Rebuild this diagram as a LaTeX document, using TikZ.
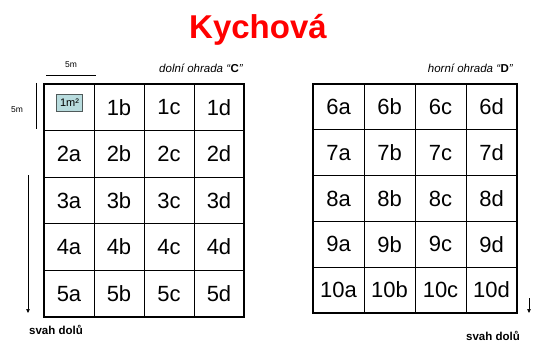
\documentclass[tikz,border=0pt]{standalone}
\usepackage{fontspec}
\setmainfont{Liberation Sans}
\usetikzlibrary{arrows.meta}
\definecolor{titlered}{RGB}{255,0,0}
\definecolor{unitfill}{RGB}{184,220,222}
\definecolor{unitline}{RGB}{80,90,90}
\begin{document}
\begin{tikzpicture}[x=1pt,y=-1pt,
  cell/.style={font=\fontsize{22}{22}\selectfont, inner sep=0pt},
  note/.style={font=\fontsize{11.5}{11.5}\selectfont\itshape, inner sep=0pt},
  dim/.style={font=\fontsize{8.5}{8.5}\selectfont, inner sep=0pt},
  slope/.style={font=\fontsize{11.5}{11.5}\selectfont\bfseries, inner sep=0pt},
  frame/.style={line width=2.6pt},
  inner/.style={line width=0.8pt},
  slopearrow/.style={line width=0.6pt, -{Triangle[length=4pt,width=3.5pt]}},
  ]
\useasboundingbox (0,0) rectangle (535,342);

% title
\node[font=\fontsize{33}{33}\selectfont\bfseries, text=titlered, inner sep=0pt] (title) at (258,30) {Kychová};

% lower enclosure C: 4 columns x 5 rows
\foreach \i in {1,2,3}
  \draw[inner] ({44+50*\i},84) -- ({44+50*\i},317);
\foreach \j in {1,2,3,4}
  \draw[inner] (44,{84+46.6*\j}) -- (244,{84+46.6*\j});
\draw[frame] (44,84) rectangle (244,317);

\foreach \r in {1,...,5}
  \foreach \c [count=\k from 0] in {a,b,c,d} {
    \ifnum\r=1 \ifnum\k=0 \else
      \node[cell] (c\r\c) at ({69+50*\k},{107.3+46.6*(\r-1)}) {\r\c};
    \fi \else
      \node[cell] (c\r\c) at ({69+50*\k},{107.3+46.6*(\r-1)}) {\r\c};
    \fi
  }

% one square metre marker in cell 1a
\node[draw=unitline, fill=unitfill, line width=0.6pt, minimum width=26pt, minimum height=17pt, inner sep=0pt,
      font=\fontsize{11}{11}\selectfont] (unit) at (69.5,103) {1m²};

% upper enclosure D: 4 columns x 5 rows
\foreach \i in {1,2,3}
  \draw[inner] ({313+51*\i},84) -- ({313+51*\i},313);
\foreach \j in {1,2,3,4}
  \draw[inner] (313,{84+45.8*\j}) -- (517,{84+45.8*\j});
\draw[frame] (313,84) rectangle (517,313);

\foreach \r [count=\n from 0] in {6,...,10}
  \foreach \c [count=\k from 0] in {a,b,c,d}
    \node[cell] (d\r\c) at ({338.5+51*\k},{106.9+45.8*\n}) {\r\c};

% enclosure captions
\node[note, anchor=south east] (capC) at (243,73) {dolní ohrada “\textup{\textbf{C}}”};
\node[note, anchor=south east] (capD) at (513,73) {horní ohrada “\textup{\textbf{D}}”};

% 5 m dimensions
\coordinate (dimHa) at (46,75);
\coordinate (dimHb) at (96,75);
\draw[line width=0.6pt] (dimHa) -- (dimHb);
\node[dim] (dimH) at (71,65) {5m};
\coordinate (dimVa) at (36,83);
\coordinate (dimVb) at (36,129);
\draw[line width=0.6pt] (dimVa) -- (dimVb);
\node[dim] (dimV) at (17,110) {5m};

% slope direction
\coordinate (slopeLa) at (28,175);
\coordinate (slopeLb) at (28,313);
\draw[slopearrow] (slopeLa) -- (slopeLb);
\node[slope] (slopeL) at (56,330) {svah dolů};
\coordinate (slopeRa) at (529,298);
\coordinate (slopeRb) at (529,313);
\draw[slopearrow] (slopeRa) -- (slopeRb);
\node[slope] (slopeR) at (493,335.5) {svah dolů};
\end{tikzpicture}
\end{document}
